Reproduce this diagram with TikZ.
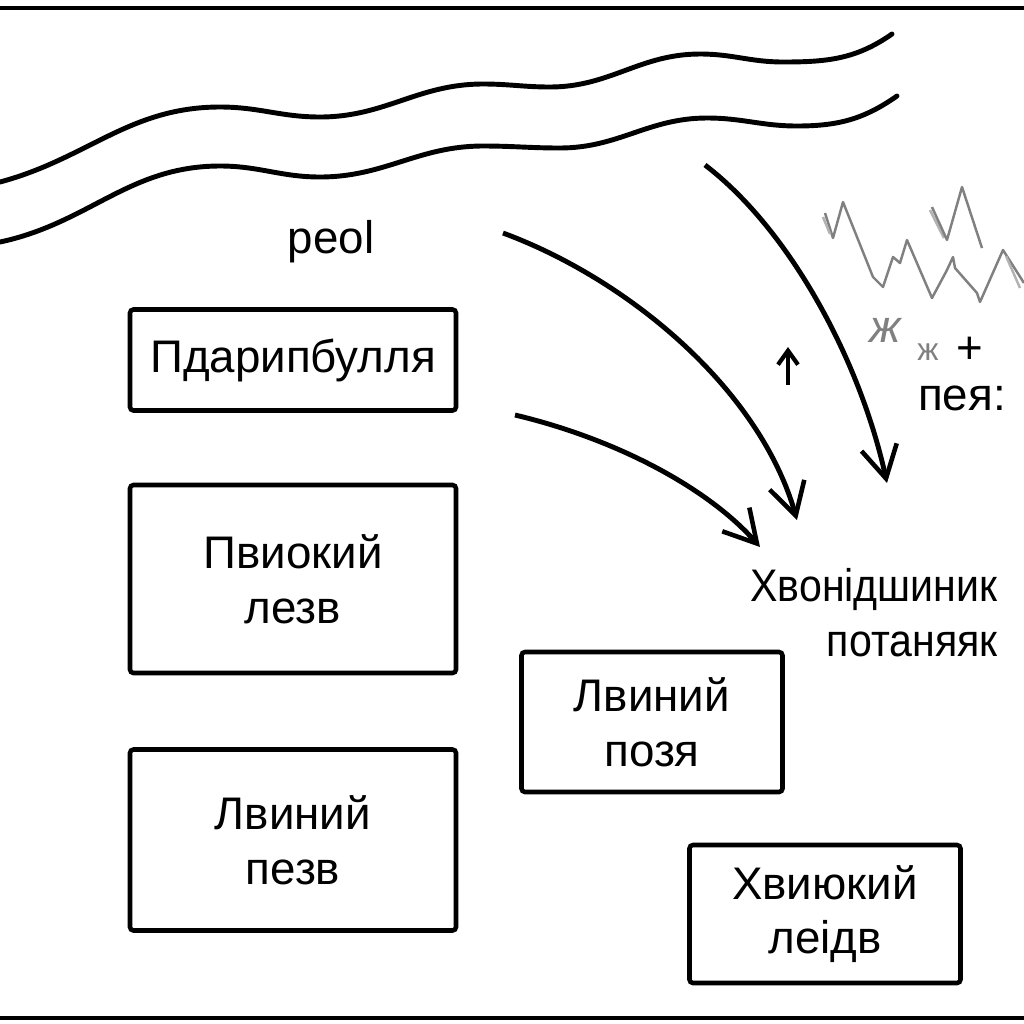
\documentclass[tikz,border=0pt]{standalone}
\usepackage{fontspec}
\setmainfont{Liberation Sans}
\usetikzlibrary{arrows.meta}

\begin{document}
\begin{tikzpicture}[
    >={Straight Barb[length=3.2mm,width=3.6mm,line width=1.3pt]},
    every node/.style={font=\fontsize{13}{15.6}\selectfont,align=center},
    khung/.style={draw,line width=1.3pt,rounded corners=1pt,inner sep=0pt},
    cung/.style={->,line width=1.4pt},
    song/.style={line width=1.4pt,line cap=round},
    rang/.style={draw=gray,line width=0.7pt,line join=round}
]
\useasboundingbox (0,0) rectangle (10.24,-10.24);

% Đường kẻ trên và dưới
\draw[line width=1.2pt] (0,-0.08) -- (10.24,-0.08);
\draw[line width=1.2pt] (0,-10.18) -- (10.24,-10.18);

% Hai đường sóng
\draw[song] (0,-1.82) to[out=15,in=180] (2.20,-1.07) to[out=0,in=180] (3.20,-1.17)
    to[out=0,in=180] (4.83,-0.84) to[out=0,in=180] (5.50,-0.87) to[out=0,in=180] (7.00,-0.54)
    to[out=0,in=180] (7.83,-0.62) to[out=0,in=215] (8.92,-0.34);
\draw[song] (0,-2.42) to[out=12,in=180] (2.20,-1.66) to[out=0,in=180] (3.20,-1.77)
    to[out=0,in=180] (4.83,-1.46) to[out=0,in=180] (5.60,-1.48) to[out=0,in=180] (7.07,-1.18)
    to[out=0,in=180] (7.97,-1.26) to[out=0,in=215] (8.97,-0.96);

% Đường răng cưa
\draw[rang] (8.25,-2.13) -- (8.33,-2.38) -- (8.43,-2.02) -- (8.73,-2.77) -- (8.83,-2.87) -- (8.93,-2.57) -- (9.00,-2.63) -- (9.07,-2.40) -- (9.32,-2.98) -- (9.47,-2.70) -- (9.53,-2.57) -- (9.55,-2.68) -- (9.77,-2.93) -- (9.80,-3.02) -- (10.03,-2.50) -- (10.24,-2.83);
\draw[rang,gray!60] (8.23,-2.17) -- (8.30,-2.34);
\draw[rang,gray!60] (9.30,-2.10) -- (9.44,-2.38);
\draw[rang,gray!60] (10.06,-2.56) -- (10.20,-2.88);
\draw[rang] (9.32,-2.07) -- (9.47,-2.40) -- (9.62,-1.87) -- (9.82,-2.48);

% Các khung
\node[khung,minimum width=3.26cm,minimum height=1.01cm] (B1) at (2.93,-3.60) {Пдарипбулля};
\node[khung,minimum width=3.26cm,minimum height=1.88cm] (B2) at (2.93,-5.79) {Пвиокий\\лезв};
\node[khung,minimum width=3.26cm,minimum height=1.81cm] (B3) at (2.93,-8.40) {Лвиний\\пезв};
\node[khung,minimum width=2.61cm,minimum height=1.40cm] (B4) at (6.52,-7.22) {Лвиний\\позя};
\node[khung,minimum width=2.71cm,minimum height=1.38cm] (B5) at (8.25,-9.14) {Хвиюкий\\леідв};

% Nhãn chữ
\node (peol) at (3.31,-2.42) {peol};
\node[align=right,anchor=east] (hv) at (10.10,-6.13) {\addfontfeature{FakeStretch=0.9}Хвонідшиник\\\addfontfeature{FakeStretch=0.9}потаняяк};
\node[text=gray] (x1) at (8.85,-3.30) {\itshape ж};
\node[text=gray,font=\small] (x2) at (9.28,-3.52) {ж};
\node (cong) at (9.70,-3.50) {+};
\node (pea) at (9.62,-3.98) {пея:};

% Đầu và cuối các mũi tên
\coordinate (d1) at (5.03,-2.33);
\coordinate (c1) at (7.97,-5.20);
\coordinate (d2) at (5.15,-4.15);
\coordinate (c2) at (7.60,-5.47);
\coordinate (d3) at (7.05,-1.65);
\coordinate (c3) at (8.87,-4.83);
\coordinate (d4) at (7.88,-3.85);
\coordinate (c4) at (7.88,-3.47);

% Vẽ các mũi tên cong
\draw[cung] (d1) .. controls (6.3,-2.8) and (7.6,-3.9) .. (c1);
\draw[cung] (d2) .. controls (6.2,-4.4) and (7.1,-4.9) .. (c2);
\draw[cung] (d3) .. controls (7.9,-2.3) and (8.6,-3.6) .. (c3);
\draw[->,line width=1.2pt,>={Straight Barb[length=1.4mm,width=2mm]}] (d4) -- (c4);
\end{tikzpicture}
\end{document}
